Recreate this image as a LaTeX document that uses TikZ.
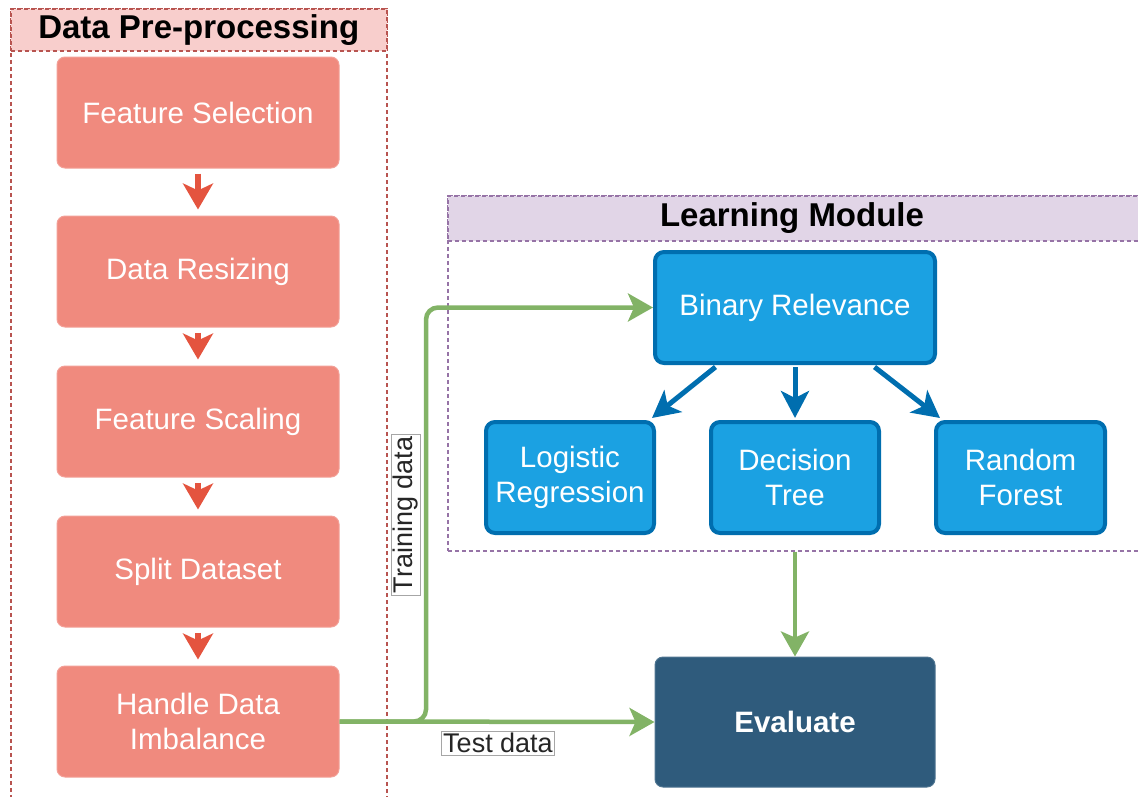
\documentclass[tikz,border=0pt]{standalone}
\usepackage{fontspec}
\setmainfont{Liberation Sans}
\usetikzlibrary{arrows.meta,calc,positioning}
\definecolor{pinkfill}{HTML}{F08A7E}
\definecolor{pinkdraw}{HTML}{F3A097}
\definecolor{redarrow}{HTML}{E4543F}
\definecolor{bluefill}{HTML}{1BA1E2}
\definecolor{bluedraw}{HTML}{006EAF}
\definecolor{evalfill}{HTML}{2F5B7C}
\definecolor{greenline}{HTML}{82B366}
\definecolor{hdrpink}{HTML}{F8CECC}
\definecolor{hdrpinkdraw}{HTML}{B85450}
\definecolor{hdrpurple}{HTML}{E1D5E7}
\definecolor{hdrpurpledraw}{HTML}{9673A6}
\tikzset{
  txt/.style={font=\fontsize{29.5}{35}\selectfont, text=white, align=center},
  pbox/.style={txt, fill=pinkfill, draw=pinkdraw, line width=1pt, rounded corners=8pt, minimum width=282pt, minimum height=111pt},
  bbox/.style={txt, fill=bluefill, draw=bluedraw, line width=4pt, rounded corners=9pt},
  ebox/.style={txt, font=\fontsize{29.5}{35}\selectfont\bfseries, fill=evalfill, draw=evalfill!85!white, line width=1pt, rounded corners=8pt, minimum width=280pt, minimum height=130pt},
  redarr/.style={draw=redarrow, line width=5.5pt, -{Stealth[length=26pt,width=30pt,inset=7pt]}},
  bluearr/.style={draw=bluedraw, line width=5pt, -{Stealth[length=27pt,width=28pt,inset=7pt]}},
  greenarr/.style={draw=greenline, line width=4.5pt, -{Stealth[length=25pt,width=28pt,inset=6pt]}},
  lbl/.style={font=\fontsize{27}{30}\selectfont, text=black!85, fill=white, draw=black!35, line width=0.6pt, inner sep=2pt},
  container/.style={dashed, dash pattern=on 4pt off 3pt, line width=1.5pt},
  hdrtxt/.style={font=\fontsize{33}{38}\selectfont\bfseries, text=black}
}
\begin{document}
\begin{tikzpicture}[x=1pt,y=-1pt]
\useasboundingbox (0,0) rectangle (1138,796);
\clip (0,0) rectangle (1138,796);
% Data Pre-processing container
\node[container, draw=hdrpinkdraw, minimum width=376pt, minimum height=800pt, anchor=north west, inner sep=0pt] (dp) at (10,8) {};
\node[container, draw=hdrpinkdraw, fill=hdrpink, minimum width=376pt, minimum height=42pt, anchor=north west, inner sep=0pt] (dph) at (10,8) {};
\node[hdrtxt] (dpt) at (dph.center) {Data Pre-processing};
% Learning Module container
\node[container, draw=hdrpurpledraw, minimum width=700pt, minimum height=355pt, anchor=north west, inner sep=0pt] (lm) at (447,195) {};
\node[container, draw=hdrpurpledraw, fill=hdrpurple, minimum width=700pt, minimum height=45pt, anchor=north west, inner sep=0pt] (lmh) at (447,195) {};
\node[hdrtxt] (lmt) at (792,218) {Learning Module};
% Pre-processing boxes
\node[pbox] (fs) at (198,112.5) {Feature Selection};
\node[pbox] (dr) at (198,271.5) {Data Resizing};
\node[pbox] (fsc) at (198,421.5) {Feature Scaling};
\node[pbox] (sd) at (198,571.5) {Split Dataset};
\node[pbox] (hdi) at (198,721.5) {Handle Data\\Imbalance};
\draw[redarr] ($(fs.south)+(0,5)$) -- ($(dr.north)+(0,-6)$);
\draw[redarr] ($(dr.south)+(0,5)$) -- ($(fsc.north)+(0,-6)$);
\draw[redarr] ($(fsc.south)+(0,5)$) -- ($(sd.north)+(0,-6)$);
\draw[redarr] ($(sd.south)+(0,5)$) -- ($(hdi.north)+(0,-6)$);
% Learning boxes
\node[bbox, minimum width=280pt, minimum height=111pt] (br) at (795,307.5) {Binary Relevance};
\node[bbox, minimum width=168pt, minimum height=111pt] (lr) at (570,477.5) {Logistic\\Regression};
\node[bbox, minimum width=168pt, minimum height=111pt] (dt) at (795,477.5) {Decision\\Tree};
\node[bbox, minimum width=169pt, minimum height=111pt] (rf) at (1020.5,477.5) {Random\\Forest};
\draw[bluearr] ($(br.south west)!0.22!(br.south east)+(0,2)$) -- ($(lr.north east)+(-4,-2)$);
\draw[bluearr] ($(br.south)+(0,2)$) -- ($(dt.north)+(0,-2)$);
\draw[bluearr] ($(br.south west)!0.78!(br.south east)+(0,2)$) -- ($(rf.north west)+(6,-2)$);
% Evaluate
\node[ebox] (ev) at (795,722) {Evaluate};
\draw[greenarr] (ev.north |- lm.south) -- (ev.north);
% Data flow
\coordinate (tx) at (426,0);
\draw[greenarr] (hdi.east) -- (ev.west);
\draw[greenarr, rounded corners=12pt] (hdi.east) -- (hdi.east -| tx) -- (br.west -| tx) -- (br.west);
\node[lbl, rotate=90] (trl) at (406,515) {Training data};
\node[lbl] (tel) at (498,743) {Test data};
\end{tikzpicture}
\end{document}
